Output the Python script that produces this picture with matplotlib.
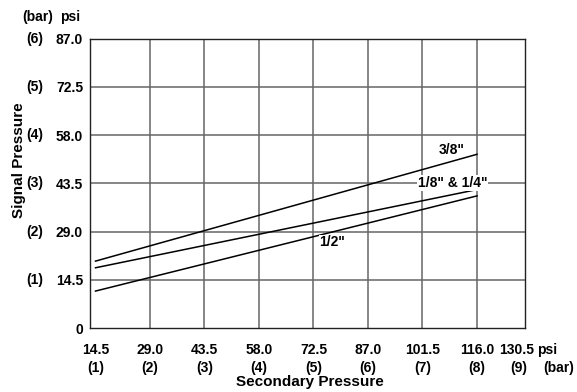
import matplotlib
matplotlib.use("Agg")
import matplotlib.pyplot as plt

plt.rcParams["font.family"] = ["Liberation Sans", "DejaVu Sans"]
plt.rcParams["font.weight"] = "bold"

# ---- data ----
x_psi = [14.5, 29.0, 43.5, 58.0, 72.5, 87.0, 101.5, 116.0]
x_psi_labels = ["14.5", "29.0", "43.5", "58.0", "72.5", "87.0", "101.5", "116.0"]
x_bar_labels = ["(1)", "(2)", "(3)", "(4)", "(5)", "(6)", "(7)", "(8)"]
y_psi = [0, 14.5, 29.0, 43.5, 58.0, 72.5, 87.0]
y_psi_labels = ["0", "14.5", "29.0", "43.5", "58.0", "72.5", "87.0"]
y_bar_labels = ["", "(1)", "(2)", "(3)", "(4)", "(5)", "(6)"]

series_names = ['3/8"', '1/8" & 1/4"', '1/2"']
series_x = [[14.5, 116.0], [14.5, 116.0], [14.5, 116.0]]
series_y = [[20.1, 52.2], [18.1, 41.6], [11.1, 39.7]]

W, H = 577, 392
fig = plt.figure(figsize=(W / 100, H / 100), dpi=100)
L, R, T, B = 90, 525, 38.5, 328
ax = fig.add_axes([L / W, 1 - B / H, (R - L) / W, (B - T) / H])

def fx(px):
    return (px - L) / (R - L)

def fy(py):
    return (B - py) / (B - T)

ax.set_xlim(13.04, 128.77)
ax.set_ylim(0, 87.0)

for xv in x_psi[1:]:
    ax.axvline(xv, color="#666666", lw=1.1, zorder=1)
for yv in y_psi[1:]:
    ax.axhline(yv, color="#666666", lw=1.1, zorder=1)

for xs, ys in zip(series_x, series_y):
    ax.plot(xs, ys, color="black", lw=1.1, zorder=3)

fs = 10
ax.set_xticks(x_psi)
ax.set_xticklabels([f"{a}\n{b}" for a, b in zip(x_psi_labels, x_bar_labels)],
                   fontsize=fs, fontweight="bold", linespacing=1.35)
ax.set_yticks(y_psi)
ax.set_yticklabels(y_psi_labels, fontsize=fs, fontweight="bold")
ax.tick_params(axis="both", length=0)
ax.tick_params(axis="x", pad=11)
ax.tick_params(axis="y", pad=5)

for yv, lab in zip(y_psi, y_bar_labels):
    if lab:
        ax.text(fx(43), yv, lab, transform=ax.get_yaxis_transform(),
                ha="right", va="center", fontsize=fs, fontweight="bold")

# headers
ax.text(fx(22), fy(17), "(bar)", transform=ax.transAxes, ha="left", va="center",
        fontsize=fs, fontweight="bold")
ax.text(fx(60), fy(17), "psi", transform=ax.transAxes, ha="left", va="center",
        fontsize=fs, fontweight="bold")
ax.text(fx(517), fy(350), "130.5", transform=ax.transAxes, ha="center", va="center",
        fontsize=fs, fontweight="bold")
ax.text(fx(537), fy(350), "psi", transform=ax.transAxes, ha="left", va="center",
        fontsize=fs, fontweight="bold")
ax.text(fx(519), fy(368), "(9)", transform=ax.transAxes, ha="center", va="center",
        fontsize=fs, fontweight="bold")
ax.text(fx(543), fy(368), "(bar)", transform=ax.transAxes, ha="left", va="center",
        fontsize=fs, fontweight="bold")

ax.set_ylabel("Signal Pressure", fontsize=11, fontweight="bold")
ax.yaxis.set_label_coords(fx(26), fy(160))
ax.set_xlabel("Secondary Pressure", fontsize=11, fontweight="bold")
ax.xaxis.set_label_coords(fx(310), fy(375))

# series labels
ax.text(109.3, 53.4, series_names[0], ha="center", va="center", fontsize=fs, fontweight="bold")
ax.text(109.5, 43.6, series_names[1], ha="center", va="center", fontsize=fs, fontweight="bold",
        bbox=dict(facecolor="white", edgecolor="none", pad=0.5), zorder=4)
ax.text(77.4, 25.8, series_names[2], ha="center", va="center", fontsize=fs, fontweight="bold",
        bbox=dict(facecolor="white", edgecolor="none", pad=0.3), zorder=4)

for s in ax.spines.values():
    s.set_color("#222222")
    s.set_linewidth(1.0)

fig.savefig("out.png", dpi=100)
